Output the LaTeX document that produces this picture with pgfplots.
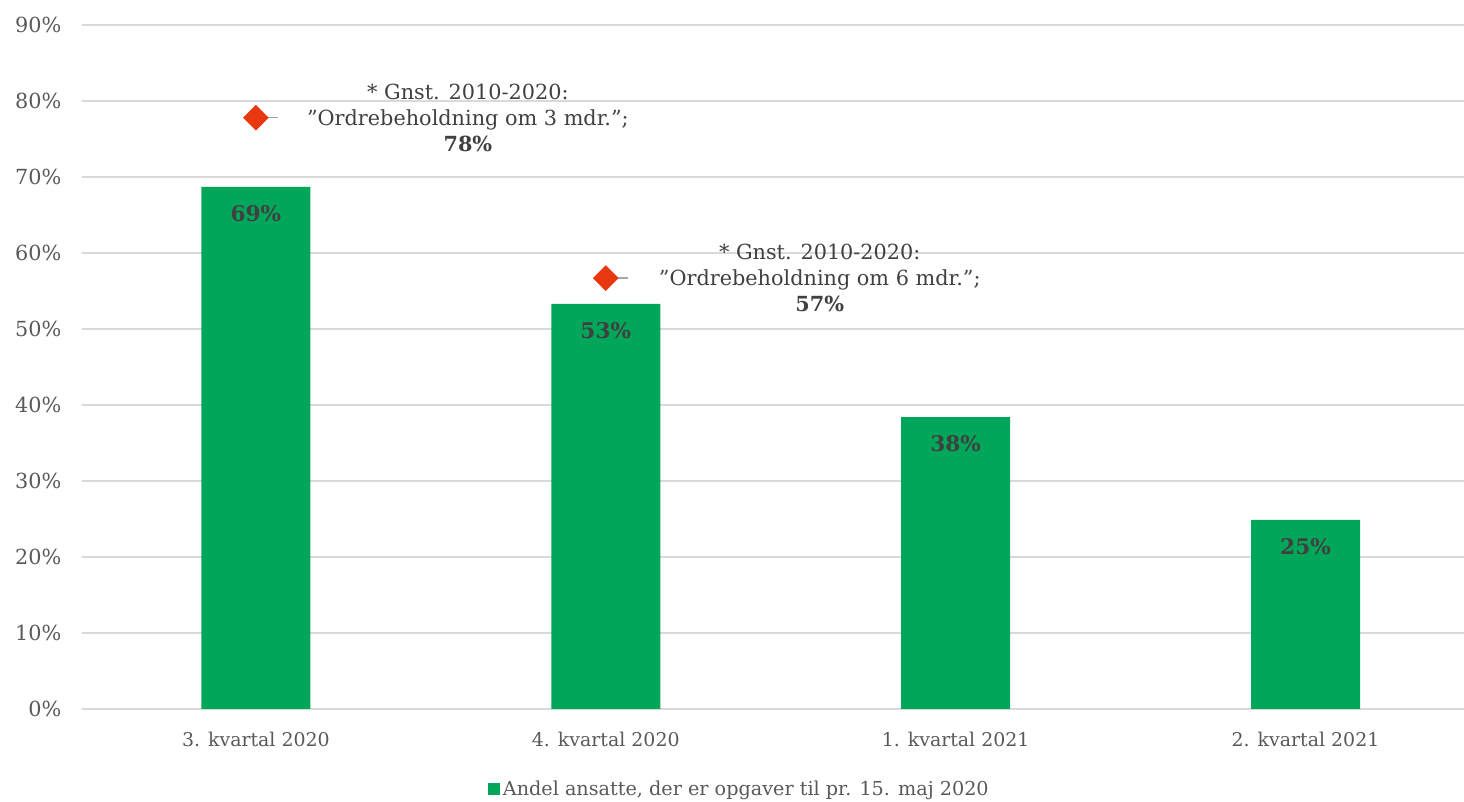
\documentclass[border=0pt]{standalone}
\usepackage{fontspec}
\setmainfont{DejaVu Serif}
\usepackage{pgfplots}
\pgfplotsset{compat=1.18}
\definecolor{bargreen}{RGB}{0,166,90}
\definecolor{markred}{RGB}{232,56,16}
\definecolor{txtgray}{RGB}{89,89,89}
\definecolor{lblgray}{RGB}{64,64,64}
\definecolor{gridgray}{RGB}{217,217,217}

\begin{document}
\begin{tikzpicture}[font=\fontsize{14.2}{17}\selectfont]
	\begin{axis}[
			scale only axis,
			width=1036.5pt,
			height=513pt,
			xmin=-0.497, xmax=3.453,
			ymin=0, ymax=90,
			ytick={0,10,...,90},
			yticklabel={\pgfmathprintnumber{\tick}\%},
			xtick={0,1,2,3},
			xticklabels={3. kvartal 2020,4. kvartal 2020,1. kvartal 2021,2. kvartal 2021},
			/pgf/number format/assume math mode=true,
			tick label style={text=txtgray},
			major tick length=0pt,
			ymajorgrids,
			grid style={gridgray, line width=1pt},
			axis x line*=bottom,
			axis y line*=left,
			x axis line style={draw=gridgray, line width=1pt, -},
			y axis line style={draw=none},
			yticklabel style={xshift=-12pt, font=\fontsize{15.6}{18}\selectfont},
			xticklabel style={yshift=-14pt},
			clip=false,
			legend style={
				at={(0.476,-0.117)}, anchor=center,
				draw=none, fill=none,
				font=\fontsize{14.4}{17}\selectfont\color{txtgray},
				/tikz/every even column/.append style={column sep=2pt}
			},
			legend image code/.code={
				\fill[bargreen] (0pt,-4.5pt) rectangle (9pt,4.5pt);
			},
		]

		% bars
		\addplot [ybar, bar width=81.75pt, fill=bargreen, draw=none,
			point meta=y,
			nodes near coords={\textbf{\pgfmathprintnumber[fixed,precision=0]{\pgfplotspointmeta}\%}},
			every node near coord/.style={anchor=north, yshift=-10.5pt,
				text=lblgray, font=\fontsize{16.2}{19}\selectfont}
		] coordinates {
			(0,68.7) (1,53.3) (2,38.4) (3,24.9)
		};
		\addlegendentry{Andel ansatte, der er opgaver til pr. 15. maj 2020}

		% leader lines
		\draw[gray!70, line width=1pt] (axis cs:0,77.8) -- ([xshift=16.5pt]axis cs:0,77.8);
		\draw[gray!70, line width=1pt] (axis cs:1,56.7) -- ([xshift=16.5pt]axis cs:1,56.7);

		% historical averages
		\addplot [only marks, mark=square*, mark size=6.6pt,
			mark options={rotate=45, fill=markred, draw=markred},
			forget plot
		] coordinates {
			(0,77.8) (1,56.7)
		};

		% annotation labels
		\node[align=center, text=lblgray, xshift=159pt, inner sep=0pt,
			font=\fontsize{15.6}{19.5}\selectfont]
			at (axis cs:0,77.8)
			{* Gnst. 2010-2020:\\ ”Ordrebeholdning om 3 mdr.”;\\ \textbf{78\%}};
		\node[align=center, text=lblgray, xshift=160.5pt, inner sep=0pt,
			font=\fontsize{15.6}{19.5}\selectfont]
			at (axis cs:1,56.7)
			{* Gnst. 2010-2020:\\ ”Ordrebeholdning om 6 mdr.”;\\ \textbf{57\%}};
	\end{axis}
	\pgfresetboundingbox
	\path[use as bounding box] (-61.5pt,-69.75pt) rectangle (1036.5pt,531.75pt);
\end{tikzpicture}
\end{document}
